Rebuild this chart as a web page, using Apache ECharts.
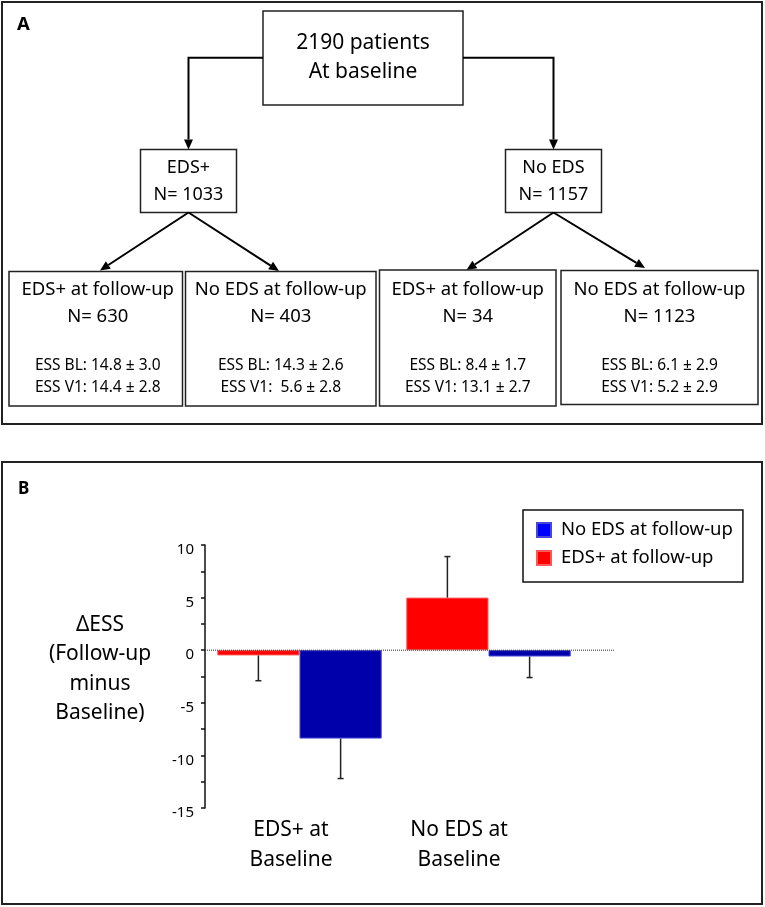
<!DOCTYPE html>
<html>
<head>
<meta charset="utf-8">
<script src="https://cdn.jsdelivr.net/npm/echarts@6/dist/echarts.min.js"></script>
<style>
  html, body { margin: 0; padding: 0; background: #fff; }
  #main { width: 765px; height: 907px; }
</style>
</head>
<body>
<div id="main"></div>
<script>
// ---------- Panel A data (flowchart text) ----------
const rootLines = ['2190 patients', 'At baseline'];
const groupNames = ['EDS+', 'No EDS'];
const groupN = [1033, 1157];
const followNames = ['EDS+ at follow-up', 'No EDS at follow-up', 'EDS+ at follow-up', 'No EDS at follow-up'];
const followN = [630, 403, 34, 1123];
const essBL = ['14.8 ± 3.0', '14.3 ± 2.6', '8.4 ± 1.7', '6.1 ± 2.9'];
const essV1 = ['14.4 ± 2.8', ' 5.6 ± 2.8', '13.1 ± 2.7', '5.2 ± 2.9'];

// ---------- Panel B data (bar chart) ----------
const categories = ['EDS+ at\nBaseline', 'No EDS at\nBaseline'];
const seriesNames = ['EDS+ at follow-up', 'No EDS at follow-up'];
const legendOrder = ['No EDS at follow-up', 'EDS+ at follow-up'];
const edsPlusDelta = [-0.5, 5.0];
const edsPlusSD = [2.4, 3.9];
const noEdsDelta = [-8.4, -0.6];
const noEdsSD = [3.8, 2.0];
const yMin = -15, yMax = 10, yInterval = 5;
const yAxisTitle = 'ΔESS\n(Follow-up\nminus\nBaseline)';

// ---------- layout / styles ----------
const FONT = "'Noto Sans', sans-serif";
const BAR_FRAC = 0.435;
const L = {
  root: { x: 263, y: 11, w: 200, h: 94 },
  groups: [{ x: 140.5, y: 149.5, w: 96, h: 63 }, { x: 505.5, y: 149.5, w: 96, h: 63 }],
  leaves: [
    { x: 9, y: 271.5, w: 173.5, h: 134.5 },
    { x: 185.5, y: 271.5, w: 190.5, h: 134.5 },
    { x: 379.5, y: 270, w: 176.5, h: 136 },
    { x: 561, y: 270.5, w: 197, h: 134 }
  ],
  leafTips: [[100, 270.5], [279, 271], [466.5, 270], [645, 268]],
  rootBranchY: 57.7
};

function rect(b, lw) {
  return { type: 'rect', shape: { x: b.x, y: b.y, width: b.w, height: b.h },
           style: { fill: '#fff', stroke: '#222', lineWidth: lw || 1.5 } };
}
function txt(s, x, y, size, weight, align) {
  return { type: 'text', x: x, y: y,
           style: { text: s, fontSize: size, fontFamily: FONT, fontWeight: weight || 'normal',
                    fill: '#000', align: align || 'center', verticalAlign: 'middle' } };
}
function arrow(points) {
  const n = points.length;
  const tip = points[n - 1], prev = points[n - 2];
  const dx = tip[0] - prev[0], dy = tip[1] - prev[1];
  const len = Math.sqrt(dx * dx + dy * dy);
  const ux = dx / len, uy = dy / len;
  const hl = 10, hw = 4.5;
  const base = [tip[0] - ux * hl, tip[1] - uy * hl];
  const pts = points.slice(0, n - 1).concat([base]);
  return [
    { type: 'polyline', shape: { points: pts }, style: { stroke: '#000', lineWidth: 2, fill: null } },
    { type: 'polygon', shape: { points: [tip, [base[0] - uy * hw, base[1] + ux * hw], [base[0] + uy * hw, base[1] - ux * hw]] },
      style: { fill: '#000' } }
  ];
}

const graphics = [];
// panel frames
graphics.push({ type: 'rect', shape: { x: 2, y: 2, width: 760, height: 422 }, style: { fill: null, stroke: '#222', lineWidth: 2 } });
graphics.push({ type: 'rect', shape: { x: 2, y: 462, width: 760, height: 442 }, style: { fill: null, stroke: '#222', lineWidth: 2 } });
graphics.push(txt('A', 17, 25, 18.5, 'bold', 'left'));
graphics.push(txt('B', 18, 489, 17, 'bold', 'left'));

// root box
graphics.push(rect(L.root));
graphics.push(txt(rootLines[0], L.root.x + L.root.w / 2, 43, 21));
graphics.push(txt(rootLines[1], L.root.x + L.root.w / 2, 72.5, 21));

// root -> group connectors
const g0c = L.groups[0].x + L.groups[0].w / 2, g1c = L.groups[1].x + L.groups[1].w / 2;
graphics.push(...arrow([[L.root.x, L.rootBranchY], [g0c, L.rootBranchY], [g0c, L.groups[0].y]]));
graphics.push(...arrow([[L.root.x + L.root.w, L.rootBranchY], [g1c, L.rootBranchY], [g1c, L.groups[1].y]]));

// group boxes
L.groups.forEach((g, i) => {
  graphics.push(rect(g));
  graphics.push(txt(groupNames[i], g.x + g.w / 2, 168, 18));
  graphics.push(txt('N= ' + groupN[i], g.x + g.w / 2, 195, 18));
});

// group -> leaf connectors
L.leafTips.forEach((t, i) => {
  const g = L.groups[i < 2 ? 0 : 1];
  graphics.push(...arrow([[g.x + g.w / 2, g.y + g.h], t]));
});

// leaf boxes
L.leaves.forEach((b, i) => {
  graphics.push(rect(b));
  const cx = b.x + b.w / 2 + (i === 0 ? 2 : 0);
  graphics.push(txt(followNames[i], cx, 290, 18.5));
  graphics.push(txt('N= ' + followN[i], cx, 317, 18.5));
  graphics.push(txt('ESS BL: ' + essBL[i], cx, 366, 15.5));
  graphics.push(txt('ESS V1: ' + essV1[i], cx, 388, 15.5));
});

// y-axis title of panel B
graphics.push({ type: 'text', x: 100, y: 669,
  style: { text: yAxisTitle, fontSize: 21, fontFamily: FONT, fill: '#000', align: 'center',
           verticalAlign: 'middle', lineHeight: 29.5 } });

// ---------- error bars ----------
const errData = [];
categories.forEach((c, i) => {
  errData.push([i, edsPlusDelta[i], edsPlusSD[i], 0]);
  errData.push([i, noEdsDelta[i], noEdsSD[i], 1]);
});
function renderErr(params, api) {
  const cat = api.value(0), v = api.value(1), sd = api.value(2), s = api.value(3);
  const band = api.size([1, 0])[0];
  const bw = band * BAR_FRAC;
  const cx = api.coord([cat, 0])[0] + (s === 0 ? -1 : 1) * bw / 2;
  const dir = v >= 0 ? 1 : -1;
  const p0 = api.coord([cat, v]);
  const p1 = api.coord([cat, v + dir * sd]);
  const st = { stroke: '#222', lineWidth: 1.5 };
  return { type: 'group', children: [
    { type: 'line', shape: { x1: cx, y1: p0[1], x2: cx, y2: p1[1] }, style: st },
    { type: 'line', shape: { x1: cx - 3, y1: p1[1], x2: cx + 3, y2: p1[1] }, style: st }
  ] };
}

const xRich = {
  a: { fontSize: 21, lineHeight: 30, fontFamily: FONT, color: '#000', padding: [0, 17, 0, 0] },
  b: { fontSize: 21, lineHeight: 30, fontFamily: FONT, color: '#000', padding: [0, 59, 0, 0] }
};

const option = {
  animation: false,
  backgroundColor: '#fff',
  textStyle: { fontFamily: FONT },
  graphic: graphics,
  legend: {
    orient: 'vertical', left: 523, top: 510,
    padding: [10, 10, 14, 13],
    borderColor: '#111', borderWidth: 1.5,
    itemWidth: 14, itemHeight: 14, itemGap: 8,
    icon: 'rect',
    textStyle: { fontSize: 18.5, fontFamily: FONT, color: '#000', lineHeight: 20, padding: [0, 0, 0, 5] },
    data: [
      { name: legendOrder[0], itemStyle: { color: '#0000ff' } },
      { name: legendOrder[1], itemStyle: { color: '#ff0000' } }
    ]
  },
  grid: [
    { left: 205, right: 182, top: 545, bottom: 99 },
    { left: 205, right: 151, top: 545, bottom: 99 }
  ],
  xAxis: [
    { type: 'category', gridIndex: 0, data: categories,
      axisLine: { show: false }, axisTick: { show: false },
      axisLabel: { margin: 7, interval: 0,
        formatter: (v, i) => v.split('\n').map(s => '{' + (i === 0 ? 'a' : 'b') + '|' + s + '}').join('\n'),
        rich: xRich } },
    { type: 'value', gridIndex: 1, min: 0, max: 1, show: false }
  ],
  yAxis: [
    { type: 'value', gridIndex: 0, min: yMin, max: yMax, interval: yInterval,
      axisLine: { show: true, lineStyle: { color: '#111', width: 1.5 } },
      axisTick: { show: true, length: 4, lineStyle: { color: '#111', width: 1.5 } },
      minorTick: { show: true, splitNumber: 2, length: 4, lineStyle: { color: '#111', width: 1.5 } },
      splitLine: { show: false },
      axisLabel: { margin: 11, fontSize: 15, fontFamily: FONT, color: '#000',
                   verticalAlign: 'top', lineHeight: 10 } },
    { type: 'value', gridIndex: 1, min: yMin, max: yMax, show: false }
  ],
  series: [
    { name: seriesNames[0], type: 'bar', xAxisIndex: 0, yAxisIndex: 0, data: edsPlusDelta,
      barWidth: (BAR_FRAC * 100) + '%', barGap: '0%',
      itemStyle: { color: '#ff0000', borderColor: '#ff5a5a', borderWidth: 1 } },
    { name: seriesNames[1], type: 'bar', xAxisIndex: 0, yAxisIndex: 0, data: noEdsDelta,
      barWidth: (BAR_FRAC * 100) + '%', barGap: '0%',
      itemStyle: { color: '#0000aa', borderColor: '#4848d8', borderWidth: 1 } },
    { type: 'custom', xAxisIndex: 0, yAxisIndex: 0, data: errData, renderItem: renderErr,
      encode: { x: 0, y: 1 }, z: 5, silent: true },
    { type: 'line', xAxisIndex: 1, yAxisIndex: 1, data: [[0, 0], [1, 0]], symbol: 'none', silent: true,
      lineStyle: { type: 'dotted', color: '#333', width: 1 }, z: 6 }
  ]
};

const chart = echarts.init(document.getElementById('main'), null, { renderer: 'canvas' });
chart.setOption(option);
</script>
</body>
</html>
